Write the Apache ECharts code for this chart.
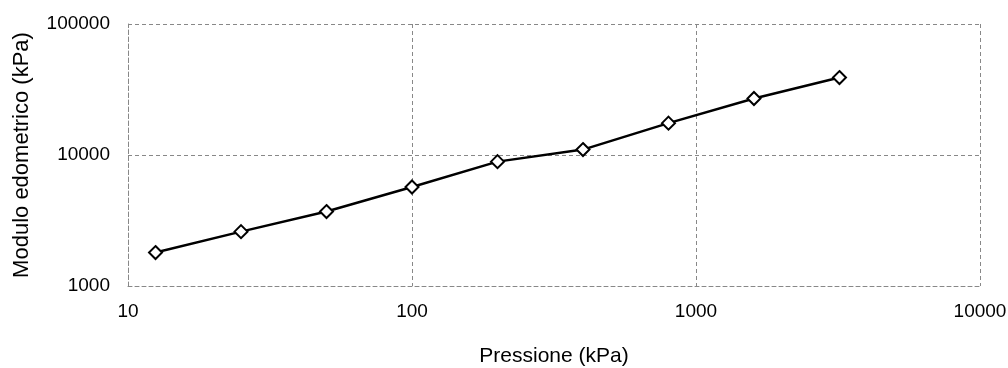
<!DOCTYPE html>
<html lang="it">
<head>
  <meta charset="UTF-8">
  <title>Modulo edometrico</title>
  <script src="https://cdn.jsdelivr.net/npm/echarts@6/dist/echarts.min.js"></script>
  <style>
    body { margin: 0; background: #fff; }
  </style>
</head>
<body>
  <div id="main" style="width:1008px;height:368px;"></div>
<script>
  // pressione (kPa) e modulo edometrico (kPa)
  var pressure = [12.5, 25, 50, 100, 200, 400, 800, 1600, 3200];
  var modulus = [1800, 2600, 3700, 5700, 8900, 11000, 17500, 27000, 39000];

  var xName = 'Pressione (kPa)';
  var yName = 'Modulo edometrico (kPa)';

  var points = pressure.map(function (p, i) { return [p, modulus[i]]; });

  var chart = echarts.init(document.getElementById('main'));
  var dashed = { color: '#888', type: [4, 3], width: 1 };
  // niente separatore delle migliaia
  var plain = function (v) { return String(Math.round(v)); };

  var option = {
    animation: false,
    textStyle: { fontFamily: 'Liberation Sans, Arial, sans-serif' },
    grid: { left: 128, right: 28, top: 24, bottom: 82, outerBoundsMode: 'none' },
    xAxis: {
      type: 'log', logBase: 10, min: 10, max: 10000,
      name: xName, nameLocation: 'middle', nameGap: 60,
      nameTextStyle: { color: '#000', fontSize: 21 },
      axisLine: { show: true, lineStyle: dashed },
      axisTick: { show: false },
      axisLabel: { color: '#000', fontSize: 19, margin: 16, formatter: plain },
      splitLine: { show: true, lineStyle: dashed },
      minorSplitLine: { show: false }
    },
    yAxis: {
      type: 'log', logBase: 10, min: 1000, max: 100000,
      name: yName, nameLocation: 'middle', nameGap: 95,
      nameTextStyle: { color: '#000', fontSize: 22 },
      axisLine: { show: true, lineStyle: dashed },
      axisTick: { show: false },
      axisLabel: { color: '#000', fontSize: 19, margin: 18, formatter: plain },
      splitLine: { show: true, lineStyle: dashed }
    },
    series: [{
      type: 'line',
      data: points,
      symbol: 'diamond',
      symbolSize: 13,
      lineStyle: { color: '#000', width: 2.5 },
      itemStyle: { color: '#fff', borderColor: '#000', borderWidth: 2 }
    }]
  };
  chart.setOption(option);
</script>
</body>
</html>
